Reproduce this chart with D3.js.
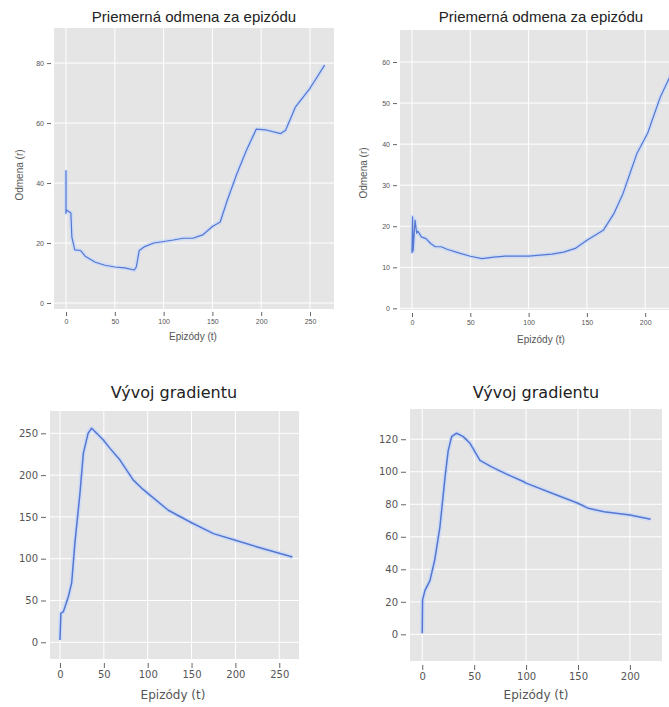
<!DOCTYPE html>
<html><head><meta charset="utf-8">
<script src="https://cdn.jsdelivr.net/npm/d3@7"></script>
<style>
body{margin:0;background:#fff;}
svg{display:block;}
</style></head>
<body>
<svg id="c" width="669" height="707"></svg>
<script>
// ---- data ----
const rewardA_t = [0,0,0.5,5,6,9,15,20,30,40,50,60,70,72,75,80,90,100,110,120,130,140,150,158,165,175,185,195,205,220,225,235,250,265];
const rewardA_v = [44.3,30,31,30,22,17.7,17.5,15.5,13.6,12.6,12,11.7,11,12,17.5,18.7,20,20.5,21,21.6,21.6,22.7,25.5,27,34,43,51,58,57.7,56.5,57.6,65.3,71.6,79.3];

const rewardB_t = [0,0.5,1,2.6,4,5,8,12,16,20,25,30,40,50,60,70,80,100,120,130,140,150,164,173,181,187,193,202,213,221,226];
const rewardB_v = [13.4,22.3,14,21.5,18.3,18.8,17.4,17,15.8,15,15,14.4,13.5,12.7,12.1,12.5,12.7,12.7,13.2,13.7,14.6,16.6,19,23,28,32.9,37.8,42.6,51.5,56.3,59];

const gradA_t = [0,1,3.8,9.5,13.3,17,22.8,26.6,32,36,41.8,49.4,57,68.4,83.6,93,102.6,123.5,150,175,200,225,250,265];
const gradA_v = [2.8,34.7,36.6,54.5,71,119,178.6,226,250,256,250,242,232,218,194,184.5,176,158,143,130,122,114,106.5,102];

const gradB_t = [0,0.3,2.6,7.4,12,17,22,25,28.3,33,39.5,46,55.6,66.8,79.7,97.3,100,125,150,160,175,200,220];
const gradB_v = [0.6,21,27,33,45.7,66,97,113,121.6,123.7,121.6,117.5,107,103,99,94,93,86.8,80.6,77.5,75.4,73.4,70.8];

const titleTop = "Priemerná odmena za epizódu";
const titleBottom = "Vývoj gradientu";
const xLabel = "Epizódy (t)";
const yLabel = "Odmena (r)";

const ticksA_x = [0,50,100,150,200,250], ticksA_y = [0,20,40,60,80];
const ticksB_x = [0,50,100,150,200],     ticksB_y = [0,10,20,30,40,50,60];
const ticksC_x = [0,50,100,150,200,250], ticksC_y = [0,50,100,150,200,250];
const ticksD_x = [0,50,100,150,200],     ticksD_y = [0,20,40,60,80,100,120];

const svg = d3.select("#c");
const LINE = "#5577d0", BAND = "#ccdaf6";

function panel(o){
  const x = d3.scaleLinear().domain(o.xd).range([o.x0, o.x1]);
  const y = d3.scaleLinear().domain(o.yd).range([o.y1, o.y0]);
  const g = svg.append("g");
  g.append("rect").attr("x",o.x0).attr("y",o.y0).attr("width",o.x1-o.x0).attr("height",o.y1-o.y0).attr("fill","#e5e5e5");
  g.selectAll(".gx").data(o.tx).join("line").attr("x1",d=>x(d)).attr("x2",d=>x(d)).attr("y1",o.y0).attr("y2",o.y1).attr("stroke","#fff").attr("stroke-width",1);
  g.selectAll(".gy").data(o.ty).join("line").attr("y1",d=>y(d)).attr("y2",d=>y(d)).attr("x1",o.x0).attr("x2",o.x1).attr("stroke","#fff").attr("stroke-width",1);
  const ax = g.append("g").attr("transform",`translate(0,${o.y1+o.gap})`)
    .call(d3.axisBottom(x).tickValues(o.tx).tickSize(o.tick).tickPadding(o.pad).tickSizeOuter(0));
  const ay = g.append("g").attr("transform",`translate(${o.x0-o.gap},0)`)
    .call(d3.axisLeft(y).tickValues(o.ty).tickSize(o.tick).tickPadding(o.pad).tickSizeOuter(0));
  [ax,ay].forEach(a=>{
    a.select(".domain").remove();
    a.selectAll("line").attr("stroke","#666");
    a.selectAll("text").attr("fill","#555").attr("font-family",o.font).attr("font-size",o.tfs);
  });
  const data = o.t.map((t,i)=>[t,o.v[i]]);
  const ln = d3.line().x(d=>x(d[0])).y(d=>y(d[1]));
  g.append("path").attr("d",ln(data)).attr("fill","none").attr("stroke",BAND).attr("stroke-width",o.lw+3).attr("stroke-linejoin","round").attr("opacity",0.9);
  g.append("path").attr("d",ln(data)).attr("fill","none").attr("stroke",LINE).attr("stroke-width",o.lw).attr("stroke-linejoin","round");
  g.append("text").attr("x",o.tcx).attr("y",o.ty0).attr("text-anchor","middle").attr("font-family",o.font).attr("font-size",o.titleFs).attr("fill","#222").text(o.title);
  g.append("text").attr("x",o.xlx).attr("y",o.xly).attr("text-anchor","middle").attr("font-family",o.font).attr("font-size",o.labFs).attr("fill","#555").text(xLabel);
  if(o.ylab){
    g.append("text").attr("transform",`translate(${o.ylx},${o.yly}) rotate(-90)`).attr("text-anchor","middle").attr("font-family",o.font).attr("font-size",o.labFs).attr("fill","#555").text(yLabel);
  }
}

const fontTop = "Liberation Sans, Arial, sans-serif", fontBot = "DejaVu Sans, sans-serif";
panel({t:rewardA_t,v:rewardA_v,x0:54,x1:334,y0:28,y1:309,xd:[-12.3,274.6],yd:[-2,91.7],tx:ticksA_x,ty:ticksA_y,
  gap:3,tick:4,pad:3,tfs:7,font:fontTop,lw:1.2,title:titleTop,titleFs:15,tcx:194,ty0:22,labFs:10,xlx:193,xly:340,ylab:true,ylx:23,yly:175});
panel({t:rewardB_t,v:rewardB_v,x0:400,x1:700,y0:30,y1:310,xd:[-10.3,247],yd:[-0.4,67.8],tx:ticksB_x,ty:ticksB_y,
  gap:3,tick:4,pad:3,tfs:7,font:fontTop,lw:1.2,title:titleTop,titleFs:15,tcx:541,ty0:22,labFs:10,xlx:541,xly:343,ylab:true,ylx:367,yly:173});
panel({t:gradA_t,v:gradA_v,x0:50,x1:299,y0:411,y1:659,xd:[-11.4,272.5],yd:[-20,276.7],tx:ticksC_x,ty:ticksC_y,
  gap:4,tick:5,pad:3,tfs:10,font:fontBot,lw:1.5,title:titleBottom,titleFs:16,tcx:174,ty0:398,labFs:12,xlx:173,xly:699,ylab:false});
panel({t:gradB_t,v:gradB_v,x0:410,x1:662,y0:409,y1:661,xd:[-11.8,230.9],yd:[-16.4,138.6],tx:ticksD_x,ty:ticksD_y,
  gap:4,tick:5,pad:3,tfs:10,font:fontBot,lw:1.5,title:titleBottom,titleFs:16,tcx:536,ty0:398,labFs:12,xlx:536,xly:699,ylab:false});
</script>
</body></html>
